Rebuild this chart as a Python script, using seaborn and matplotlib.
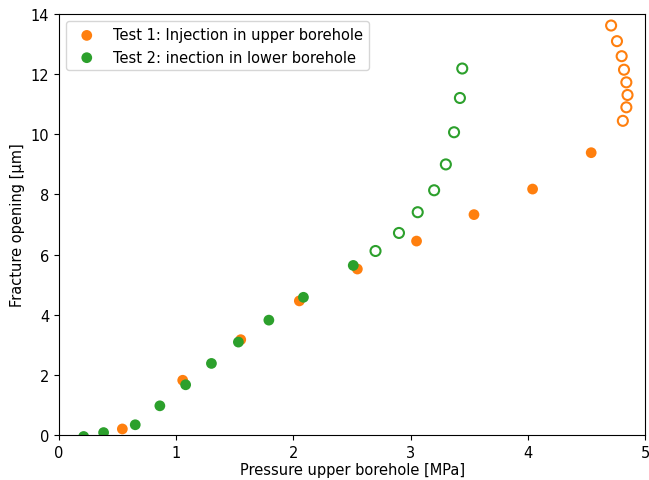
import numpy as np
import pandas as pd
import seaborn as sns
import matplotlib.pyplot as plt

# test 1 - injection in upper borehole
t1_x = [0.54, 1.055, 1.55, 2.05, 2.545, 3.05, 3.54, 4.04, 4.54]
t1_y = [0.2, 1.82, 3.17, 4.46, 5.52, 6.45, 7.33, 8.18, 9.39]
t1_open_x = [4.81, 4.84, 4.85, 4.84, 4.82, 4.80, 4.76, 4.71]
t1_open_y = [10.45, 10.9, 11.31, 11.73, 12.15, 12.6, 13.1, 13.62]

# test 2 - injection in lower borehole
t2_x = [0.21, 0.38, 0.65, 0.86, 1.08, 1.30, 1.53, 1.79, 2.085, 2.51]
t2_y = [-0.05, 0.08, 0.34, 0.97, 1.67, 2.38, 3.09, 3.82, 4.58, 5.64]
t2_open_x = [2.70, 2.90, 3.06, 3.20, 3.30, 3.37, 3.42, 3.44]
t2_open_y = [6.12, 6.72, 7.41, 8.14, 9.0, 10.07, 11.21, 12.19]

orange = "#ff7f0e"
green = "#2ca02c"

plt.rcParams['font.size'] = 10.5

fig = plt.figure(figsize=(6.49, 4.81), dpi=100)
ax = fig.add_axes([0.091, 0.0936, 0.903, 0.875])

sns.scatterplot(x=t1_x, y=t1_y, color=orange, s=60, edgecolor="none",
                label="Test 1: Injection in upper borehole", ax=ax)
sns.scatterplot(x=t1_open_x, y=t1_open_y, facecolors="none", edgecolor=orange,
                s=52, linewidth=1.5, ax=ax)
sns.scatterplot(x=t2_x, y=t2_y, color=green, s=60, edgecolor="none",
                label="Test 2: inection in lower borehole", ax=ax)
sns.scatterplot(x=t2_open_x, y=t2_open_y, facecolors="none", edgecolor=green,
                s=52, linewidth=1.5, ax=ax)

ax.set_xlim(0, 5)
ax.set_ylim(0, 14)
ax.set_xticks(range(0, 6))
ax.set_yticks(range(0, 15, 2))
ax.set_xlabel("Pressure upper borehole [MPa]", labelpad=2)
ax.set_ylabel("Fracture opening [µm]")
ax.legend(loc="upper left")

fig.savefig("out.png", dpi=100)
